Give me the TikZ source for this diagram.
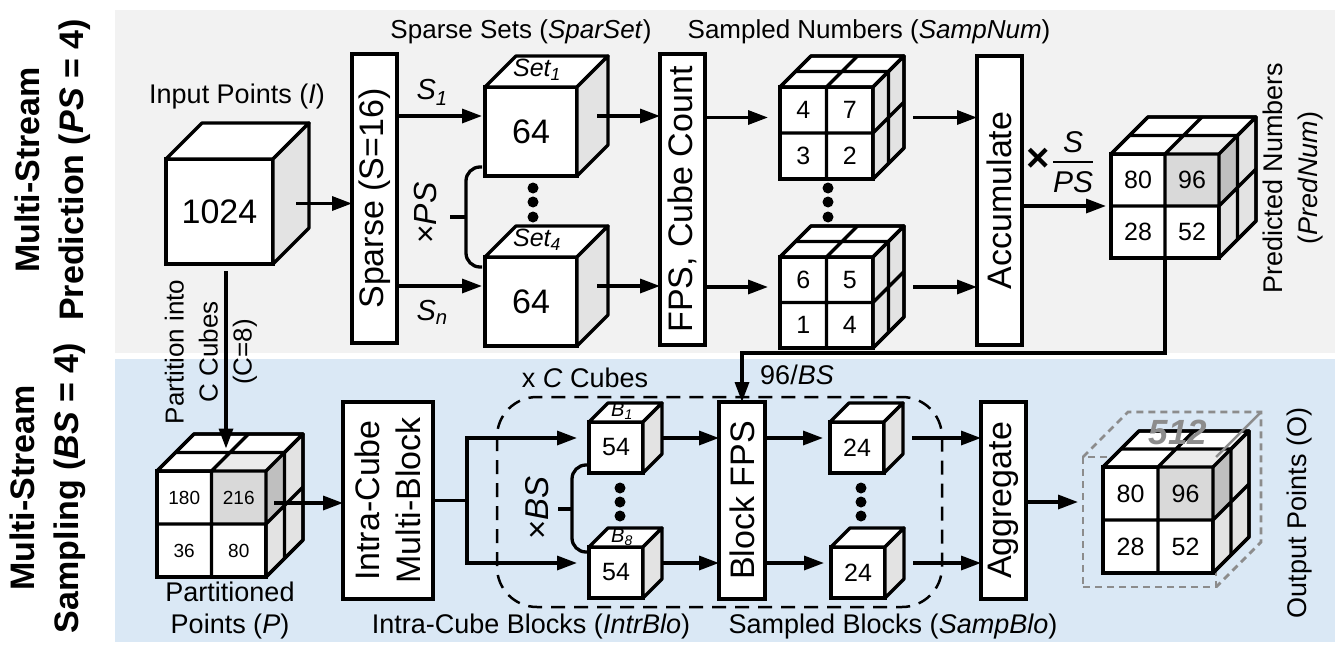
\documentclass[tikz,border=0pt]{standalone}
\usepackage{fontspec}
\setmainfont{Liberation Sans}
\usetikzlibrary{arrows.meta,calc}

\definecolor{panelgray}{HTML}{F2F2F2}
\definecolor{panelblue}{RGB}{218,232,245}
\colorlet{side}{black!11}
\colorlet{hlfront}{black!15}
\colorlet{hlside}{black!25}
\colorlet{hltop}{black!8}
\colorlet{ghost}{black!45}

\tikzset{
  cubeline/.style={line width=3.3pt, line join=round},
  cubeface/.style={draw, line width=3.3pt, fill=white, inner sep=0pt, outer sep=0pt},
  stage/.style={draw, line width=3.5pt, fill=white, rotate=90, inner sep=0pt, outer sep=0pt,
    font=\fontsize{34}{41}\selectfont, align=center},
  arr/.style={line width=3.3pt, -{Triangle[length=20pt,width=14pt]}},
  wire/.style={line width=3.3pt},
  bracepath/.style={line width=3.3pt, rounded corners=14pt},
  lbl/.style={font=\fontsize{26}{34}\selectfont, inner sep=0pt},
  bignum/.style={font=\fontsize{34}{40}\selectfont},
  cellnum/.style={font=\fontsize{25}{30}\selectfont, inner sep=0pt},
  tinynum/.style={font=\fontsize{19}{22}\selectfont, inner sep=0pt},
  toptag/.style={font=\fontsize{25}{28}\selectfont\itshape, inner sep=0pt},
  streamlbl/.style={font=\fontsize{34}{44}\selectfont\bfseries, rotate=90, align=center},
  streamgroup/.style={line width=2.5pt, dash pattern=on 14pt off 9pt, rounded corners=40pt},
  ghostline/.style={draw=ghost, line width=2.8pt, dash pattern=on 7pt off 5pt},
}

% top and right faces of a cube whose front face is node #1, depth #2
\newcommand{\cubesides}[2]{%
  \coordinate (#1-c) at ($(#1.center)+(#2/2,-#2/2)$);
  \coordinate (#1-o) at ($(#1.east)+(#2,-#2/2)$);
  \coordinate (#1-t) at ($(#1.north)+(#2/2,-#2/2)$);
  \draw[cubeline,fill=white] (#1.north west) -- ++(#2,-#2) -- ($(#1.north east)+(#2,-#2)$) -- (#1.north east) -- cycle;
  \draw[cubeline,fill=side] (#1.north east) -- ++(#2,-#2) -- ($(#1.south east)+(#2,-#2)$) -- (#1.south east) -- cycle;
}
% 2x2x2 cube, #3=1 shades the front top right block
\newcommand{\gridcube}[3]{%
  \cubesides{#1}{#2}
  \ifnum#3=1
    \fill[hlfront] (#1.north) rectangle (#1.east);
    \fill[hltop] (#1.north) -- (#1.north east) -- ++(#2/2,-#2/2) -- ($(#1.north)+(#2/2,-#2/2)$) -- cycle;
    \fill[hlside] (#1.north east) -- ++(#2/2,-#2/2) -- ($(#1.east)+(#2/2,-#2/2)$) -- (#1.east) -- cycle;
  \fi
  \draw[cubeline] (#1.north) -- (#1.south) (#1.west) -- (#1.east)
    (#1.north) -- ++(#2,-#2) (#1.east) -- ++(#2,-#2)
    ($(#1.north west)+(#2/2,-#2/2)$) -- ($(#1.north east)+(#2/2,-#2/2)$) -- ($(#1.south east)+(#2/2,-#2/2)$)
    (#1.north west) rectangle (#1.south east);
  \draw[cubeline] (#1.north west) -- ++(#2,-#2) -- ($(#1.north east)+(#2,-#2)$) -- ($(#1.south east)+(#2,-#2)$) -- (#1.south east);
  \draw[cubeline] (#1.north east) -- ++(#2,-#2);
}
% numbers in the four front cells
\newcommand{\cellnums}[6]{%
  \node[#2] (#1-a) at ($(#1.north west)!0.25!(#1.south east)$) {#3};
  \node[#2] (#1-b) at ($(#1.north east)!0.25!(#1.south west)$) {#4};
  \node[#2] (#1-e) at ($(#1.north east)!0.75!(#1.south west)$) {#5};
  \node[#2] (#1-d) at ($(#1.north west)!0.75!(#1.south east)$) {#6};
}

\begin{document}
\begin{tikzpicture}[x=1pt,y=-1pt]
\useasboundingbox (0,0) rectangle (1344,653);
% panels
\fill[panelgray] (115,10) rectangle (1335,353);
\fill[panelblue] (115,359) rectangle (1335,642);
\node[streamlbl] (predstream) at (52.5,170) {Multi-Stream\\Prediction (\textit{PS} = 4)};
\node[streamlbl] (sampstream) at (47.5,488) {Multi-Stream\\Sampling (\textit{BS} = 4)};

% prediction stream
\node[lbl, font=\fontsize{27}{34}\selectfont] (inlbl) at (237,97) {Input Points (\textit{I})};
\node[cubeface, bignum, minimum width=107pt, minimum height=105pt] (in) at (219.5,211.5) {1024};
\cubesides{in}{36}

\node[stage, minimum width=289pt, minimum height=45pt] (sparse) at (374.5,198.5) {Sparse (S=16)};
\coordinate (in-r) at ($(in.east)+(23,-8)$);
\draw[arr] (in-r) -- (in-r -| sparse.north);

\node[lbl] (sparselbl) at (521,32) {Sparse Sets (\textit{SparSet})};
\node[cubeface, bignum, minimum width=92pt, minimum height=89pt] (set1) at (531,131.5) {64};
\node[cubeface, bignum, minimum width=92pt, minimum height=89pt] (set4) at (531,301.5) {64};
\cubesides{set1}{31}
\cubesides{set4}{31}
\node[toptag] (set1tag) at ($(set1.north)+(6,-17)$) {Set\textsubscript{1}};
\node[toptag] (set4tag) at ($(set4.north)+(6,-17)$) {Set\textsubscript{4}};
\foreach \y in {188,202,217}
{
  \fill (533,\y) circle[radius=5.5pt];
  \fill (828,\y) circle[radius=5.5pt];
}
\draw[bracepath] (482,167) -- (466,167) -- (466,267) -- (482,267);
\draw[wire] (450,217) -- (466,217);
\node[lbl, font=\fontsize{32}{36}\selectfont, rotate=90] (xps) at (425,213) {×\textit{PS}};

\draw[arr, shorten >=3pt] (sparse.south |- set1-c) -- node[lbl, font=\fontsize{29}{32}\selectfont, above=9pt, pos=0.4] (s1lbl) {\textit{S\textsubscript{1}}} (set1-c -| set1.west);
\draw[arr, shorten >=3pt] (sparse.south |- set4-c) -- node[lbl, font=\fontsize{29}{32}\selectfont, below=13pt, pos=0.4] (snlbl) {\textit{S\textsubscript{n}}} (set4-c -| set4.west);

\node[stage, minimum width=291pt, minimum height=45pt] (fps) at (682.5,199.5) {FPS, Cube Count};
\draw[arr] ($(set1-o)+(-11,0)$) -- (set1-c -| fps.north);
\draw[arr] ($(set4-o)+(-11,0)$) -- (set4-c -| fps.north);

\node[lbl] (numlbl) at (869,32) {Sampled Numbers (\textit{SampNum})};
\node[cubeface, minimum width=93pt, minimum height=92pt] (num1) at (826.5,133) {};
\node[cubeface, minimum width=93pt, minimum height=91pt] (num2) at (826.5,302.5) {};
\gridcube{num1}{31}{0}
\gridcube{num2}{31}{0}
\cellnums{num1}{cellnum}{4}{7}{3}{2}
\cellnums{num2}{cellnum}{6}{5}{1}{4}
\draw[arr, shorten >=12pt] (fps.south |- num1-c) -- (num1-c -| num1.west);
\draw[arr, shorten >=12pt] (fps.south |- num2-c) -- (num2-c -| num2.west);

\node[stage, minimum width=289pt, minimum height=45pt] (acc) at (999.5,200.5) {Accumulate};
\draw[arr] ($(num1-o)+(9,0)$) -- (num1-c -| acc.north);
\draw[arr] ($(num2-o)+(9,0)$) -- (num2-c -| acc.north);

\node[cubeface, minimum width=108pt, minimum height=104pt] (pred) at (1165,206) {};
\gridcube{pred}{37}{1}
\cellnums{pred}{cellnum}{80}{96}{28}{52}
\draw[arr, shorten >=5pt] (acc.south |- pred.west) -- (pred.west);
\node[font=\fontsize{40}{44}\selectfont\bfseries, inner sep=0pt] (times) at (1038,160) {×};
\node[lbl, font=\fontsize{30}{32}\selectfont] (ratioS) at (1073,142) {\textit{S}};
\node[lbl, font=\fontsize{30}{32}\selectfont] (ratioPS) at (1073,182) {\textit{PS}};
\draw[line width=2.5pt] ($(ratioS.south)!0.5!(ratioPS.north)+(-20,0)$) -- ($(ratioS.south)!0.5!(ratioPS.north)+(20,0)$);
\node[lbl, font=\fontsize{27}{35}\selectfont, rotate=90, align=center] (predname) at (1292.5,178) {Predicted Numbers\\(\textit{PredNum})};

% sampling stream
\node[cubeface, minimum width=109pt, minimum height=106pt] (pcube) at (211.5,524) {};
\gridcube{pcube}{37}{1}
\cellnums{pcube}{tinynum}{180}{216}{36}{80}
\coordinate (pdrop) at ($(pcube-t)+(-4,-4)$);
\draw[arr, shorten <=7pt] (in.south -| pdrop) -- (pdrop);
\node[lbl, rotate=90, align=center] (partlbl) at (211,352) {Partition into\\C Cubes\\(C=8)};
\node[lbl, font=\fontsize{27}{32}\selectfont, align=center] (plbl) at (230,611) {Partitioned\\Points (\textit{P})};

\node[stage, minimum width=197pt, minimum height=90pt] (intra) at (388,500.5) {Intra-Cube\\Multi-Block};
\coordinate (pcube-r) at ($(pcube.east)+(8,-21)$);
\draw[arr] (pcube-r) -- (pcube-r -| intra.north);

\draw[streamgroup] (497,397) rectangle (942,607);
\node[lbl, font=\fontsize{27}{34}\selectfont] (cubeslbl) at (585,378) {x \textit{C} Cubes};

\node[cubeface, cellnum, minimum width=54pt, minimum height=51pt] (b1) at (616,447.5) {54};
\node[cubeface, cellnum, minimum width=54pt, minimum height=51pt] (b8) at (616,572.5) {54};
\cubesides{b1}{19}
\cubesides{b8}{19}
\node[toptag, font=\fontsize{20}{22}\selectfont\itshape] (b1tag) at ($(b1.north)+(6,-11)$) {B\textsubscript{1}};
\node[toptag, font=\fontsize{20}{22}\selectfont\itshape] (b8tag) at ($(b8.north)+(6,-10)$) {B\textsubscript{8}};
\foreach \y in {488,502,516}
{
  \fill (620,\y) circle[radius=5.5pt];
  \fill (861,\y) circle[radius=5.5pt];
}
\draw[bracepath] (587,465) -- (572,465) -- (572,552) -- (587,552);
\draw[wire] (558,509) -- (572,509);
\node[lbl, font=\fontsize{33}{36}\selectfont, rotate=90] (xbs) at (537,508) {×\textit{BS}};

\coordinate (fork) at ($(intra.south)+(34,0)$);
\draw[wire] (intra.south) -- (fork);
\draw[arr, shorten >=12pt] (fork) |- (b1-c -| b1.west);
\draw[arr, shorten >=12pt] (fork) |- (b8-c -| b8.west);

\node[stage, minimum width=197pt, minimum height=46pt] (bfps) at (742,500.5) {Block FPS};
\draw[arr] (b1-o) -- (b1-c -| bfps.north);
\draw[arr] (b8-o) -- (b8-c -| bfps.north);
\coordinate (bend) at ($(pred.south)+(0,95)$);
\draw[arr] (pred.south) -- (bend) -| (bfps.east);
\node[lbl, font=\fontsize{27}{34}\selectfont] (bsnum) at ($(bfps.east)+(55,-27)$) {96/\textit{BS}};

\node[cubeface, cellnum, minimum width=54pt, minimum height=51pt] (s1) at (857,447.5) {24};
\node[cubeface, cellnum, minimum width=54pt, minimum height=51pt] (s2) at (858,572.5) {24};
\cubesides{s1}{19}
\cubesides{s2}{19}
\draw[arr, shorten >=7pt] (bfps.south |- s1-c) -- (s1-c -| s1.west);
\draw[arr, shorten >=7pt] (bfps.south |- s2-c) -- (s2-c -| s2.west);

\node[stage, minimum width=197pt, minimum height=45pt] (agg) at (1003.5,500.5) {Aggregate};
\draw[arr] ($(s1-o)+(9,0)$) -- (s1-c -| agg.north);
\draw[arr] ($(s2-o)+(9,0)$) -- (s2-c -| agg.north);

\node[ghostline, inner sep=0pt, outer sep=0pt, minimum width=133pt, minimum height=130pt] (outer) at (1149.5,522) {};
\draw[ghostline] (outer.north west) -- ++(45,-45) -- ($(outer.north east)+(45,-45)$) -- ($(outer.south east)+(45,-45)$) -- (outer.south east);
\node[cubeface, minimum width=110pt, minimum height=106pt] (out) at (1158,520) {};
\gridcube{out}{36}{1}
\cellnums{out}{cellnum}{80}{96}{28}{52}
\draw[draw=ghost, line width=2.5pt] (outer.north east) -- ++(45,-45);
\node[font=\fontsize{35}{36}\selectfont\bfseries\itshape, text=ghost, inner sep=0pt] (total) at (1178,432) {512};
\draw[arr, shorten >=5pt] (agg.south |- out-c) -- (out-c -| outer.west);
\node[lbl, font=\fontsize{27}{34}\selectfont, rotate=90] (outlbl) at (1300,513) {Output Points (O)};

\node[lbl, font=\fontsize{27}{34}\selectfont] (intrlbl) at (531,627) {Intra-Cube Blocks (\textit{IntrBlo})};
\node[lbl, font=\fontsize{27}{34}\selectfont] (sblolbl) at (893,627) {Sampled Blocks (\textit{SampBlo})};
\end{tikzpicture}
\end{document}
